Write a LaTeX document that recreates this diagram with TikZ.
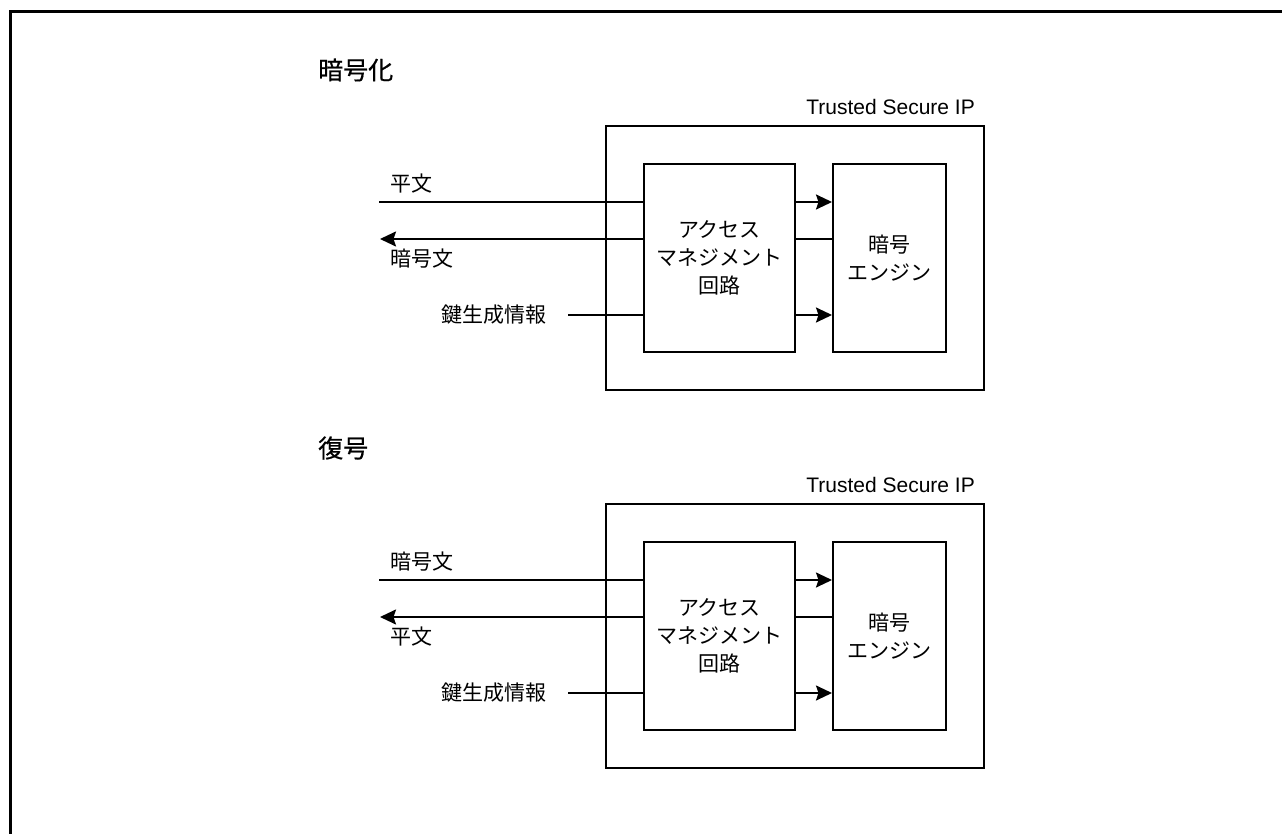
\documentclass[tikz,border=0pt]{standalone}
\usepackage{fontspec}
\setmainfont{Liberation Sans}
\newfontfamily\jp{Noto Sans CJK JP}
\newfontfamily\jph{Noto Sans CJK JP}[FakeBold=0.6]
\usetikzlibrary{arrows.meta}
\tikzset{
  wire/.style={line width=2pt},
  arrline/.style={wire,-{Stealth[length=16pt,width=15pt,inset=2.5pt]}},
  blk/.style={draw,line width=2pt,inner sep=0pt},
  lbl/.style={font=\jp\fontsize{21}{28}\selectfont,inner sep=0pt},
  head/.style={font=\jph\fontsize{25}{30}\selectfont,inner sep=0pt},
  latin/.style={font=\fontsize{21}{26}\selectfont,inner sep=0pt}
}
\begin{document}
\begin{tikzpicture}[x=1pt,y=-1pt]
\useasboundingbox[fill=white] (0,0) rectangle (1282,834);
\coordinate (bl) at (10.5,840);
\coordinate (tl) at (10.5,11.3);
\coordinate (tr) at (1290,11.3);
\draw[line width=3pt] (bl) -- (tl) -- (tr);
\foreach \i/\dy/\hd/\inl/\outl in {a/0/暗号化/平文/暗号文, b/378/復号/暗号文/平文}{
  \node[head,anchor=west] (head\i) at (318,{70+\dy}) {\hd};
  \node[blk,minimum width=378pt,minimum height=264pt] (tsip\i) at (795,{258+\dy}) {};
  \node[latin,anchor=east] (tsl\i) at (975,{107+\dy}) {Trusted Secure IP};
  \node[blk,minimum width=151pt,minimum height=188pt,align=center,lbl] (acc\i) at (719.5,{258+\dy}) {アクセス\\マネジメント\\回路};
  \node[blk,minimum width=113pt,minimum height=188pt,align=center,lbl] (eng\i) at (889.5,{258+\dy}) {暗号\\エンジン};
  \coordinate (inA\i) at (379,{202+\dy});
  \coordinate (outA\i) at (380,{239+\dy});
  \coordinate (keyA\i) at (568,{315+\dy});
  \node[lbl,anchor=west] (inlbl\i) at (390,{184+\dy}) {\inl};
  \node[lbl,anchor=west] (outlbl\i) at (390,{259+\dy}) {\outl};
  \node[lbl,anchor=east] (keylbl\i) at (547,{315+\dy}) {鍵生成情報};
  \draw[wire] (inA\i) -- (inA\i -| acc\i.west);
  \draw[arrline] (outA\i -| acc\i.west) -- (outA\i);
  \draw[wire] (keyA\i) -- (keyA\i -| acc\i.west);
  \draw[arrline] (inA\i -| acc\i.east) -- (inA\i -| eng\i.west);
  \draw[wire] (outA\i -| acc\i.east) -- (outA\i -| eng\i.west);
  \draw[arrline] (keyA\i -| acc\i.east) -- (keyA\i -| eng\i.west);
}
\end{tikzpicture}
\end{document}
